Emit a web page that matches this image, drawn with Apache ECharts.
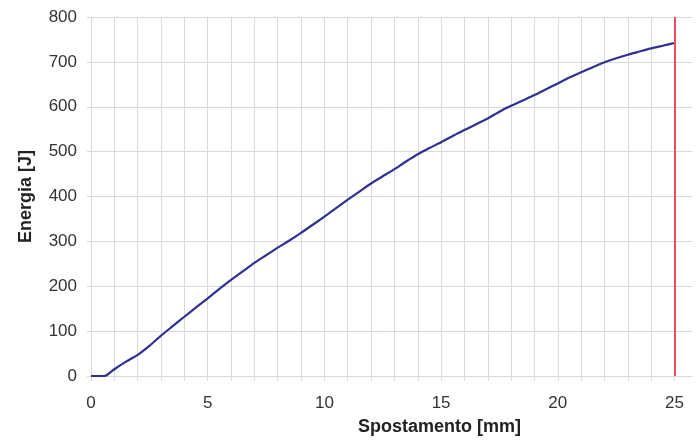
<!DOCTYPE html>
<html>
<head>
<meta charset="utf-8">
<script src="https://cdn.jsdelivr.net/npm/echarts@6/dist/echarts.min.js"></script>
<style>
  html, body { margin: 0; padding: 0; background: #fff; }
  #chart { width: 699px; height: 445px; }
</style>
</head>
<body>
<div id="chart"></div>
<script>
// dati
var spostamento = [0, 0.5, 0.65, 1, 1.5, 2, 2.5, 3, 3.5, 4, 4.5, 5, 5.5, 6, 6.5, 7, 7.5, 8, 8.5, 9, 9.5, 10,
    10.5, 11, 11.5, 12, 12.5, 13, 13.5, 14, 14.5, 15, 15.5, 16, 16.5, 17, 17.5, 18, 18.5, 19, 19.5, 20,
    20.5, 21, 21.5, 22, 22.5, 23, 23.5, 24, 24.5, 25];
var energia = [0, 0, 1, 15, 32, 47, 67, 90, 111, 132, 153, 173, 194, 214, 233, 252, 269, 286, 302, 319, 337, 355,
    374, 393, 411, 429, 445, 461, 478, 494, 508, 521, 535, 548, 561, 574, 589, 602, 614, 626, 639, 652,
    665, 677, 688, 699, 708, 716, 723, 730, 736, 742];
var limiteX = 25; // linea rossa
var yTicks = [0, 100, 200, 300, 400, 500, 600, 700, 800];

var chart = echarts.init(document.getElementById('chart'));

var punti = [];
for (var i = 0; i < spostamento.length; i++) {
    punti.push([spostamento[i], energia[i]]);
}

var option = {
    animation: false,
    grid: { left: 91, right: 7, top: 17, bottom: 69 },
    xAxis: {
        type: 'value',
        min: 0,
        max: 25.75,
        interval: 1,
        name: 'Spostamento [mm]',
        nameLocation: 'middle',
        nameGap: 42,
        nameTextStyle: { fontFamily: 'Liberation Sans', fontWeight: 'bold', fontSize: 18, color: '#222', padding: [0, 0, 0, 96] },
        axisLine: { show: true, lineStyle: { color: '#d9d9d9', width: 1 } },
        axisTick: { show: true, length: 5, lineStyle: { color: '#d9d9d9' } },
        splitLine: { show: true, showMaxLine: false, lineStyle: { color: '#d9d9d9', width: 1 } },
        axisLabel: {
            margin: 19,
            fontFamily: 'Liberation Sans',
            fontSize: 17,
            color: '#333',
            showMaxLabel: false,
            formatter: function (v) { return (v % 5 === 0) ? String(v) : ''; }
        }
    },
    yAxis: {
        type: 'value',
        min: yTicks[0],
        max: yTicks[yTicks.length - 1],
        interval: 100,
        name: 'Energia [J]',
        nameLocation: 'middle',
        nameGap: 56,
        nameTextStyle: { fontFamily: 'Liberation Sans', fontWeight: 'bold', fontSize: 18, color: '#222' },
        axisLine: { show: false },
        axisTick: { show: true, length: 4, lineStyle: { color: '#d9d9d9' } },
        splitLine: { show: true, lineStyle: { color: '#d9d9d9', width: 1 } },
        axisLabel: { margin: 14, fontFamily: 'Liberation Sans', fontSize: 17, color: '#333' }
    },
    series: [{
        type: 'line',
        data: punti,
        showSymbol: false,
        smooth: 0.2,
        lineStyle: { color: '#2e3192', width: 2.2 },
        markLine: {
            silent: true,
            symbol: 'none',
            label: { show: false },
            lineStyle: { color: '#e8505b', width: 2, type: 'solid' },
            data: [{ xAxis: limiteX }]
        }
    }]
};

chart.setOption(option);
</script>
</body>
</html>
